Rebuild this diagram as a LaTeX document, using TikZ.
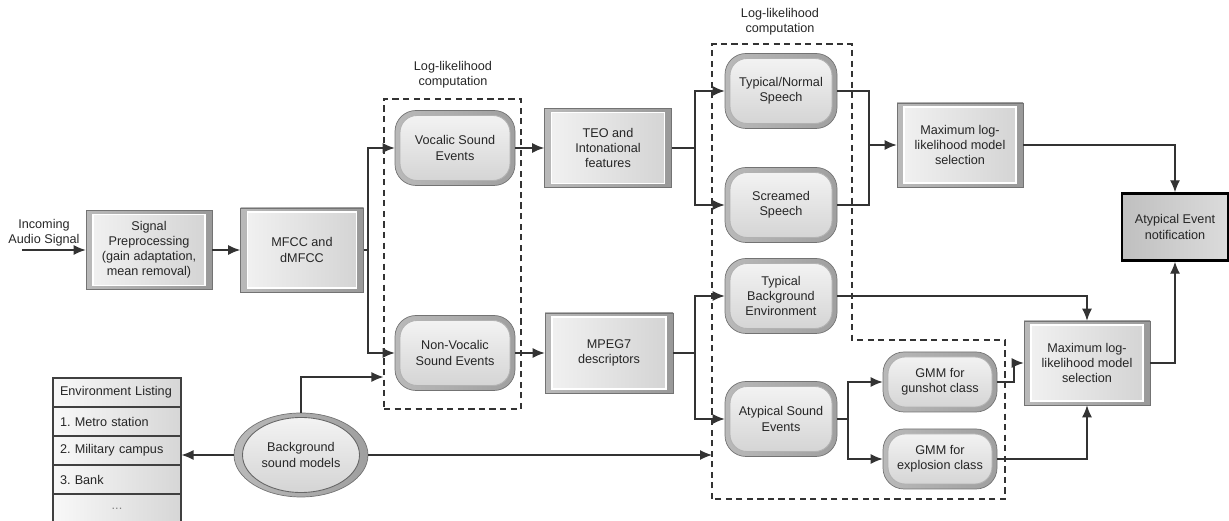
\documentclass[tikz,border=0pt]{standalone}
\usepackage{fontspec}
\setmainfont{Liberation Sans}
\usetikzlibrary{%
  arrows.meta,%
  shapes.geometric,% wg. ellipse
  positioning,%
  calc%
}
\newcommand{\dfont}{\fontsize{7.2}{8.6}\selectfont}
\frenchspacing

\begin{document}
\begin{tikzpicture}
[font=\dfont, text=black!85, >={Latex[length=2.4mm,width=2mm]},
conn/.style={draw=black!80, line width=0.7pt},
llbox/.style={draw=black!80, line width=0.6pt, dash pattern=on 3.5pt off 2.5pt},
proc/.style={rectangle, draw=black!55, line width=0.4pt, align=center, inner sep=0pt,
  minimum width=2.52cm, minimum height=1.58cm, left color=gray!55, right color=gray!80,
  path picture={\draw[white, line width=0.7pt, left color=gray!10, right color=gray!35]
    ([shift={(0.14,-0.08)}]path picture bounding box.north west) rectangle
    ([shift={(-0.14,0.08)}]path picture bounding box.south east);}},
evt/.style={rectangle, rounded corners=0.42cm, draw=black!55, line width=0.4pt, align=center, inner sep=0pt,
  minimum width=2.24cm, minimum height=1.50cm, left color=gray!55, right color=gray!75,
  path picture={\draw[gray!60, line width=0.5pt, rounded corners=0.34cm, top color=gray!8, bottom color=gray!35]
    ([shift={(0.10,-0.10)}]path picture bounding box.north west) rectangle
    ([shift={(-0.10,0.10)}]path picture bounding box.south east);}},
bgsm/.style={ellipse, draw=black!55, line width=0.4pt, align=center, inner sep=0pt,
  minimum width=2.68cm, minimum height=1.68cm, left color=gray!55, right color=gray!75,
  path picture={\draw[black!60, line width=0.5pt, top color=gray!8, bottom color=gray!35]
    (path picture bounding box.center) ellipse [x radius=1.17cm, y radius=0.75cm];}},
envrow/.style={rectangle, draw=black!75, line width=0.6pt, inner sep=0pt,
  minimum width=2.56cm, minimum height=0.58cm, text width=2.28cm, align=left,
  left color=gray!5, right color=gray!32},
alarm/.style={rectangle, draw=black, line width=1.4pt, align=center, inner sep=0pt,
  minimum width=2.12cm, minimum height=1.34cm, left color=gray!50, right color=gray!28},
lbl/.style={align=center}]

\useasboundingbox (0,0) rectangle (24.58,10.42);

% dashed log-likelihood regions
\node[llbox, rectangle, inner sep=0pt, minimum width=2.74cm, minimum height=6.20cm] (ll1) at (9.05,5.34) {};
\coordinate (ll2sw) at (14.24,0.44);
\draw[llbox] (ll2sw) -- (14.24,9.54) -- (17.04,9.54) -- (17.04,3.62) -- (20.10,3.62) -- (20.10,0.44) -- cycle;
\node[lbl] (ll1txt) at (9.06,8.92) {Log-likelihood\\computation};
\node[lbl] (ll2txt) at (15.60,9.98) {Log-likelihood\\computation};

% front end
\node[lbl] (insig) at (0.88,5.76) {Incoming\\Audio Signal};
\coordinate (src) at (0.44,5.42);
\node[proc] (pre) at (2.98,5.42) {Signal\\Preprocessing\\(gain adaptation,\\mean removal)};
\node[proc, minimum width=2.46cm, minimum height=1.68cm] (mfcc) at (6.04,5.42) {MFCC and\\dMFCC};

\node[evt, minimum width=2.40cm] (vocal) at (9.10,7.46) {Vocalic Sound\\Events};
\node[evt, minimum width=2.40cm] (nonvocal) at (9.10,3.36) {Non-Vocalic\\Sound Events};

\node[proc, minimum width=2.54cm] (teo) at (12.16,7.46) {TEO and\\Intonational\\features};
\node[proc, minimum width=2.56cm, minimum height=1.60cm] (mpeg) at (12.18,3.36) {MPEG7\\descriptors};

\node[evt] (normal) at (15.62,8.60) {Typical/Normal\\Speech};
\node[evt] (scream) at (15.62,6.32) {Screamed\\Speech};
\node[evt] (typbg) at (15.62,4.50) {Typical\\Background\\Environment};
\node[evt] (atyp) at (15.62,2.04) {Atypical Sound\\Events};

\node[evt, minimum width=2.28cm, minimum height=1.20cm] (gun) at (18.80,2.78) {GMM for\\gunshot class};
\node[evt, minimum width=2.28cm, minimum height=1.20cm] (expl) at (18.80,1.24) {GMM for\\explosion class};

\node[proc, minimum height=1.68cm] (maxa) at (19.20,7.52) {Maximum log-\\likelihood model\\selection};
\node[proc, minimum height=1.68cm] (maxb) at (21.74,3.16) {Maximum log-\\likelihood model\\selection};

\node[alarm] (notif) at (23.50,5.88) {Atypical Event\\notification};

% background models and listing
\node[bgsm] (bgm) at (6.02,1.32) {Background\\sound models};
\node[envrow] (env0) at (2.34,2.57) {Environment Listing};
\node[envrow] (env1) at (2.34,1.99) {1. Metro station};
\node[envrow] (env2) at (2.34,1.41) {2. Military campus};
\node[envrow] (env3) at (2.34,0.83) {3. Bank};
\node[envrow, align=center, text=black!50] (env4) at (2.34,0.25) {...};

% junctions
\coordinate (s1) at (7.36,5.42);
\coordinate (s2) at (13.90,7.46);
\coordinate (s3) at (13.90,3.36);
\coordinate (s4) at (16.96,2.04);
\coordinate (m1) at (17.38,7.52);
\coordinate (mg) at (20.28,3.16);

% connectors
\draw[conn,->] (src) -- (pre);
\draw[conn,->] (pre) -- (mfcc);
\draw[conn] (mfcc) -- (s1);
\draw[conn,->] (s1) |- (vocal);
\draw[conn,->] (s1) |- (nonvocal);
\draw[conn,->] (vocal) -- (teo);
\draw[conn,->] (nonvocal) -- (mpeg);
\draw[conn] (teo) -- (s2);
\draw[conn,->] (s2) |- (normal);
\draw[conn,->] (s2) |- (scream);
\draw[conn] (mpeg) -- (s3);
\draw[conn,->] (s3) |- (typbg);
\draw[conn,->] (s3) |- (atyp);
\draw[conn] (normal) -| (m1);
\draw[conn] (scream) -| (m1);
\draw[conn,->] (m1) -- (maxa);
\draw[conn,->] (maxa) -| (notif);
\draw[conn,->] (typbg) -| (maxb);
\draw[conn] (atyp) -- (s4);
\draw[conn,->] (s4) |- (gun);
\draw[conn,->] (s4) |- (expl);
\draw[conn,->] (gun.east) -- (gun.east -| mg) |- (maxb.west);
\draw[conn,->] (expl) -| (maxb);
\draw[conn,->] (maxb) -| (notif);
\draw[conn,->] (bgm.west) -- (bgm.west -| env2.east);
\draw[conn,->] (bgm.north) |- (ll1.west |- 0,2.88);
\draw[conn,->] (bgm) -- (bgm -| ll2sw);
\end{tikzpicture}
\end{document}
